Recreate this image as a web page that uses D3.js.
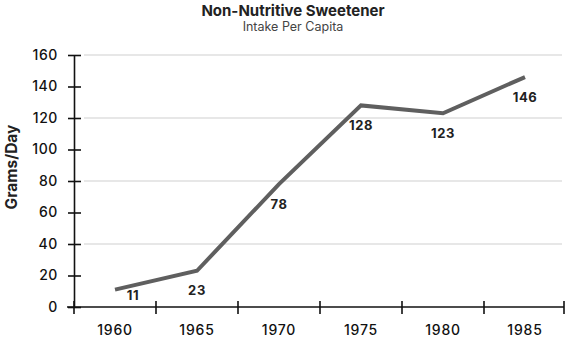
<!DOCTYPE html>
<html><head><meta charset="utf-8">
<script src="https://cdn.jsdelivr.net/npm/d3@7"></script>
<style>
body{margin:0;background:#fff;}
text{font-family:Inter,"Noto Sans",sans-serif;}
</style></head>
<body><svg id="c" width="566" height="339"></svg>
<script>
const years = ["1960","1965","1970","1975","1980","1985"];
const values = [11, 23, 78, 128, 123, 146];
const yTicks = [0,20,40,60,80,100,120,140,160];
const gridTicks = [40,80,120,160];
const title = "Non-Nutritive Sweetener";
const subtitle = "Intake Per Capita";
const yLabel = "Grams/Day";

(function(){
const svg = d3.select("#c");
const mLeft = 74, mRight = 566, mTop = 55, mBottom = 307;
const x = d3.scaleBand().domain(years).range([mLeft, mRight]).padding(0);
const y = d3.scaleLinear().domain([0,160]).range([mBottom, mTop]);

// gridlines
svg.append("g").selectAll("line").data(gridTicks).join("line")
  .attr("x1", mLeft+10).attr("x2", 562)
  .attr("y1", d=>y(d)).attr("y2", d=>y(d))
  .attr("stroke", "#cfcfcf").attr("stroke-width", 1);

// y axis
const yAxis = svg.append("g").attr("transform",`translate(${mLeft},0)`)
  .call(d3.axisLeft(y).tickValues(yTicks).tickSizeInner(6).tickSizeOuter(0).tickPadding(9));
yAxis.select(".domain").attr("stroke","#111").attr("stroke-width",1.6);
yAxis.selectAll(".tick line").attr("x2",7).attr("x1",-6).attr("stroke","#111").attr("stroke-width",1.6);
yAxis.selectAll(".tick text").attr("x",-16).attr("font-size",14).attr("font-weight",500)
  .attr("letter-spacing",0.6).attr("fill","#111");

// x axis (band boundaries as ticks)
const bounds = years.map(d=>x(d)).concat([x(years[years.length-1])+x.bandwidth()]);
const xg = svg.append("g");
xg.append("line").attr("x1",mLeft-7).attr("x2",mRight-2).attr("y1",mBottom).attr("y2",mBottom)
  .attr("stroke","#111").attr("stroke-width",1.6);
xg.selectAll("line.t").data(bounds).join("line").attr("class","t")
  .attr("x1",d=>Math.min(d,mRight-2)).attr("x2",d=>Math.min(d,mRight-2))
  .attr("y1",mBottom-6).attr("y2",mBottom+7).attr("stroke","#111").attr("stroke-width",1.6);
xg.selectAll("text").data(years).join("text")
  .attr("x",d=>x(d)+x.bandwidth()/2).attr("y",mBottom+24)
  .attr("text-anchor","middle").attr("dominant-baseline","middle")
  .attr("font-size",14).attr("font-weight",500).attr("letter-spacing",0.8)
  .attr("fill","#111").text(d=>d);

// line
const pts = years.map((d,i)=>[x(d)+x.bandwidth()/2, y(values[i])]);
svg.append("path").attr("d", d3.line()(pts))
  .attr("fill","none").attr("stroke","#5f5f5f").attr("stroke-width",4)
  .attr("stroke-linejoin","miter");

// value labels
svg.append("g").selectAll("text").data(values).join("text")
  .each(function(v,i){
    const [px,py] = pts[i];
    let ly = py + 21, lx = px;
    if (ly > mBottom - 11) { ly = mBottom - 11; lx = px + 18; }
    d3.select(this).attr("x",lx).attr("y",ly);
  })
  .attr("text-anchor","middle").attr("dominant-baseline","middle")
  .attr("font-size",13).attr("font-weight",700).attr("letter-spacing",0.6)
  .attr("fill","#222").text(d=>d);

// titles
svg.append("text").attr("x",293).attr("y",12).attr("text-anchor","middle")
  .attr("dominant-baseline","middle").attr("font-size",15).attr("font-weight",700)
  .attr("fill","#222").text(title);
svg.append("text").attr("x",293).attr("y",28).attr("text-anchor","middle")
  .attr("dominant-baseline","middle").attr("font-size",12.5).attr("font-weight",400)
  .attr("fill","#444").text(subtitle);
svg.append("text").attr("transform",`translate(13,167) rotate(-90)`)
  .attr("text-anchor","middle").attr("dominant-baseline","middle")
  .attr("font-size",15.5).attr("font-weight",700).attr("fill","#222").text(yLabel);
})();
</script></body></html>
